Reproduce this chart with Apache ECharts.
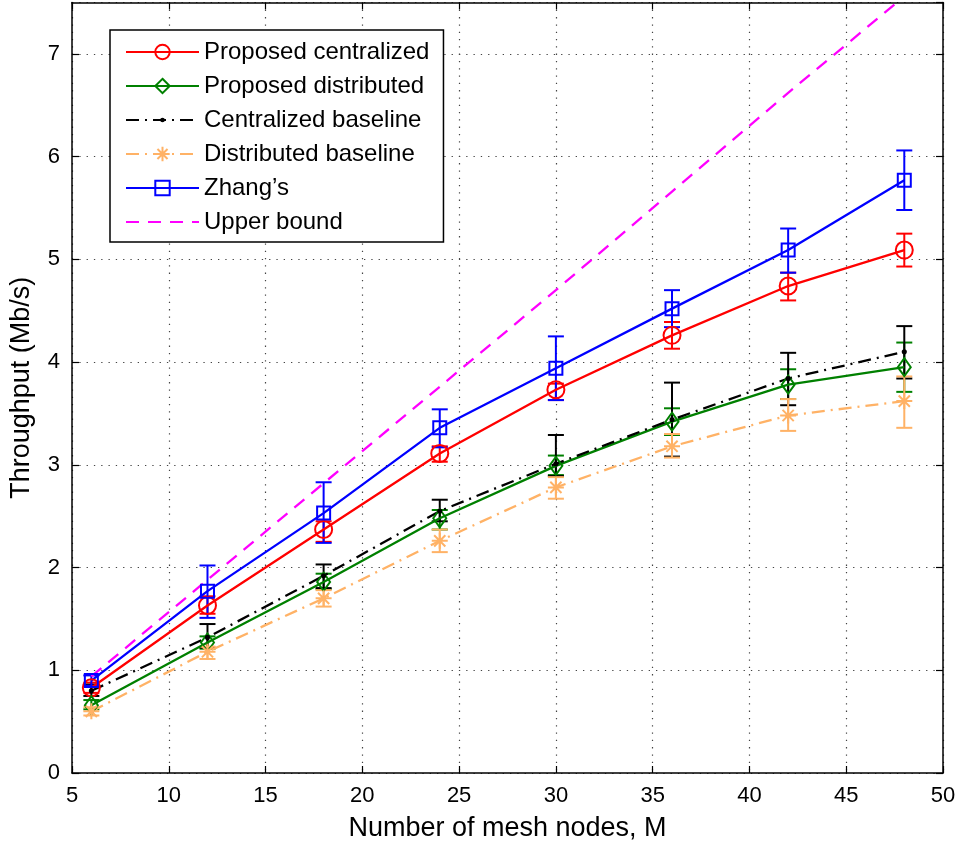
<!DOCTYPE html>
<html>
<head>
<meta charset="utf-8">
<script src="https://cdn.jsdelivr.net/npm/echarts@6/dist/echarts.min.js"></script>
<style>
html,body{margin:0;padding:0;background:#fff;}
#chart{width:963px;height:847px;}
</style>
</head>
<body>
<div id="chart"></div>
<script>
// ---- data ----
const nodes = [6, 12, 18, 24, 30, 36, 42, 48];

const propCentral     = [0.83, 1.63, 2.37, 3.11, 3.73, 4.26, 4.74, 5.09];
const propCentralLo   = [0.78, 1.55, 2.25, 3.03, 3.63, 4.13, 4.60, 4.93];
const propCentralHi   = [0.88, 1.72, 2.45, 3.18, 3.79, 4.39, 4.87, 5.25];

const propDistrib     = [0.66, 1.27, 1.86, 2.48, 2.99, 3.42, 3.78, 3.95];
const propDistribLo   = [0.62, 1.21, 1.79, 2.37, 2.90, 3.29, 3.64, 3.71];
const propDistribHi   = [0.71, 1.33, 1.94, 2.56, 3.09, 3.55, 3.93, 4.19];

const centralBase     = [0.80, 1.32, 1.92, 2.55, 3.01, 3.44, 3.84, 4.10];
const centralBaseLo   = [0.75, 1.22, 1.80, 2.45, 2.89, 3.08, 3.58, 3.84];
const centralBaseHi   = [0.86, 1.45, 2.03, 2.66, 3.29, 3.80, 4.09, 4.35];

const distribBase     = [0.60, 1.18, 1.70, 2.26, 2.78, 3.18, 3.48, 3.62];
const distribBaseLo   = [0.56, 1.11, 1.62, 2.15, 2.67, 3.07, 3.33, 3.36];
const distribBaseHi   = [0.64, 1.23, 1.78, 2.37, 2.88, 3.30, 3.64, 3.86];

const zhang           = [0.90, 1.77, 2.53, 3.36, 3.94, 4.52, 5.09, 5.77];
const zhangLo         = [0.85, 1.51, 2.24, 3.17, 3.63, 4.34, 4.87, 5.48];
const zhangHi         = [0.95, 2.02, 2.83, 3.54, 4.25, 4.70, 5.30, 6.06];

const upperBound      = [0.94, 1.88, 2.82, 3.76, 4.70, 5.66, 6.62, 7.56];

const seriesNames = ['Proposed centralized', 'Proposed distributed', 'Centralized baseline',
                     'Distributed baseline', 'Zhang\u2019s', 'Upper bound'];
const xTicks = [5, 10, 15, 20, 25, 30, 35, 40, 45, 50];
const yTicks = [0, 1, 2, 3, 4, 5, 6, 7];

// ---- chart ----
const FONT = 'Liberation Sans, Arial, Helvetica, sans-serif';
const pair = v => nodes.map((x, i) => [x, v[i]]);

function errSeries(name, color, lo, hi) {
  return {
    type: 'custom',
    name: name + ' error',
    data: nodes.map((x, i) => [x, lo[i], hi[i]]),
    encode: { x: 0, y: [1, 2] },
    silent: true,
    renderItem: function (params, api) {
      const x = api.value(0);
      const a = api.coord([x, api.value(1)]);
      const b = api.coord([x, api.value(2)]);
      const hw = 8;
      const st = { stroke: color, lineWidth: 2 };
      return {
        type: 'group',
        children: [
          { type: 'line', shape: { x1: a[0], y1: a[1], x2: b[0], y2: b[1] }, style: st },
          { type: 'line', shape: { x1: a[0] - hw, y1: a[1], x2: a[0] + hw, y2: a[1] }, style: st },
          { type: 'line', shape: { x1: b[0] - hw, y1: b[1], x2: b[0] + hw, y2: b[1] }, style: st }
        ]
      };
    }
  };
}

function lineSeries(name, color, values, symbol, size, lineType, filled) {
  return {
    type: 'line',
    name: name,
    data: pair(values),
    symbol: symbol,
    symbolSize: size,
    showSymbol: symbol !== 'none',
    lineStyle: { color: color, width: 2.3, type: lineType },
    itemStyle: filled
      ? { color: color, borderColor: color, borderWidth: 0 }
      : { color: 'rgba(0,0,0,0)', borderColor: color, borderWidth: 2 },
    emphasis: { disabled: true }
  };
}

const RED = '#ff0000', GREEN = '#008000', BLACK = '#000000', ORANGE = '#ffb266', BLUE = '#0000ff', MAGENTA = '#ff00ff';
const ASTER = 'path://M5,0L5,10M0,5L10,5M1.5,1.5L8.5,8.5M1.5,8.5L8.5,1.5';
// small dot inside a 10x10 box (corner moves only set the box)
const DOT = 'path://M0,0M10,10M3.4,5A1.6,1.6 0 1,0 6.6,5A1.6,1.6 0 1,0 3.4,5Z';

const legendData = seriesNames.map((n, i) => i === 5
  ? { name: n, itemStyle: { color: 'rgba(0,0,0,0)', borderColor: 'rgba(0,0,0,0)', borderWidth: 0 } }
  : { name: n });

const option = {
  animation: false,
  backgroundColor: '#ffffff',
  grid: { left: 71, right: 20, top: 2.5, bottom: 72.5, containLabel: false },
  xAxis: [{
    type: 'value', min: 5, max: 50, interval: 5,
    name: 'Number of mesh nodes, M', nameLocation: 'middle', nameGap: 42,
    nameTextStyle: { fontSize: 27, fontFamily: FONT, color: '#000' },
    axisLine: { show: true, onZero: false, lineStyle: { color: '#000', width: 1.5 } },
    axisTick: { show: true, inside: true, length: 7, lineStyle: { color: '#000', width: 1.2 } },
    axisLabel: { fontSize: 22, fontFamily: FONT, color: '#000', margin: 12 },
    splitLine: { show: true, lineStyle: { color: '#444', width: 1.2, type: [1.3, 6] } }
  }, {
    type: 'value', min: 5, max: 50, interval: 5, position: 'top',
    axisLine: { show: true, onZero: false, lineStyle: { color: '#000', width: 1.5 } },
    axisTick: { show: true, inside: true, length: 7, lineStyle: { color: '#000', width: 1.2 } },
    axisLabel: { show: false }, splitLine: { show: false }
  }],
  yAxis: [{
    type: 'value', min: 0, max: 7.5, interval: 1,
    name: 'Throughput (Mb/s)', nameLocation: 'middle', nameGap: 37,
    nameTextStyle: { fontSize: 27, fontFamily: FONT, color: '#000' },
    axisLine: { show: true, onZero: false, lineStyle: { color: '#000', width: 1.5 } },
    axisTick: { show: true, inside: true, length: 7, lineStyle: { color: '#000', width: 1.2 } },
    axisLabel: { fontSize: 22, fontFamily: FONT, color: '#000', margin: 12, showMaxLabel: false,
                 formatter: v => (Number.isInteger(v) && yTicks.includes(v)) ? String(v) : '' },
    splitLine: { show: true, lineStyle: { color: '#444', width: 1.2, type: [1.3, 6] } }
  }, {
    type: 'value', min: 0, max: 7.5, interval: 1, position: 'right',
    axisLine: { show: true, onZero: false, lineStyle: { color: '#000', width: 1.5 } },
    axisTick: { show: true, inside: true, length: 7, lineStyle: { color: '#000', width: 1.2 } },
    axisLabel: { show: false }, splitLine: { show: false }
  }],
  legend: {
    data: legendData,
    orient: 'vertical',
    left: 110, top: 30,
    padding: [9, 14, 7, 15],
    itemWidth: 73, itemHeight: 18, itemGap: 8,
    borderColor: '#000', borderWidth: 1.5, backgroundColor: '#fff',
    textStyle: { fontSize: 24, fontFamily: FONT, color: '#000', lineHeight: 26 },
    selectedMode: false
  },
  series: [
    lineSeries(seriesNames[0], RED, propCentral, 'circle', 17, 'solid', false),
    errSeries(seriesNames[0], RED, propCentralLo, propCentralHi),
    lineSeries(seriesNames[1], GREEN, propDistrib, 'diamond', [13, 18], 'solid', false),
    errSeries(seriesNames[1], GREEN, propDistribLo, propDistribHi),
    lineSeries(seriesNames[2], BLACK, centralBase, DOT, 16, [13, 6, 2, 6], true),
    errSeries(seriesNames[2], BLACK, centralBaseLo, centralBaseHi),
    lineSeries(seriesNames[3], ORANGE, distribBase, ASTER, 16, [13, 6, 2, 6], false),
    errSeries(seriesNames[3], ORANGE, distribBaseLo, distribBaseHi),
    lineSeries(seriesNames[4], BLUE, zhang, 'rect', 13, 'solid', false),
    errSeries(seriesNames[4], BLUE, zhangLo, zhangHi),
    lineSeries(seriesNames[5], MAGENTA, upperBound, 'none', 0, [13, 9], false)
  ]
};

const chart = echarts.init(document.getElementById('chart'), null, { renderer: 'canvas' });
chart.setOption(option);
</script>
</body>
</html>
